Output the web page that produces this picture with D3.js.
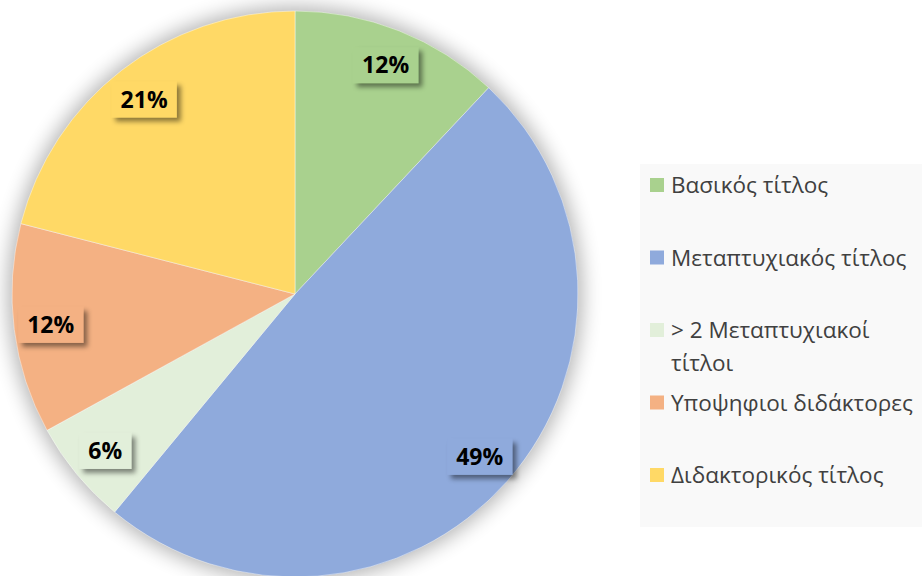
<!DOCTYPE html>
<html>
<head>
<meta charset="utf-8">
<script src="https://cdn.jsdelivr.net/npm/d3@7"></script>
<style>
  html, body { margin: 0; padding: 0; background: #ffffff; }
  svg { display: block; }
</style>
</head>
<body>
<svg id="chart" width="922" height="576"></svg>
<script>
// Share of each qualification level (percent)
const categories = [
  "Βασικός τίτλος",
  "Μεταπτυχιακός τίτλος",
  "> 2 Μεταπτυχιακοί τίτλοι",
  "Υποψηφιοι διδάκτορες",
  "Διδακτορικός τίτλος"
];
const values = [12, 49, 6, 12, 21];
const legendLines = [
  ["Βασικός τίτλος"],
  ["Μεταπτυχιακός τίτλος"],
  ["> 2 Μεταπτυχιακοί", "τίτλοι"],
  ["Υποψηφιοι διδάκτορες"],
  ["Διδακτορικός τίτλος"]
];
const colors = ["#a9d18e", "#8faadc", "#e2efda", "#f4b183", "#ffd966"];

const svg = d3.select("#chart");
const cx = 295, cy = 294, R = 283;

const defs = svg.append("defs");
const glow = defs.append("filter").attr("id", "glow")
  .attr("x", "-20%").attr("y", "-20%").attr("width", "140%").attr("height", "140%");
glow.append("feGaussianBlur").attr("stdDeviation", 10);

const lblShadow = defs.append("filter").attr("id", "lblShadow")
  .attr("x", "-30%").attr("y", "-30%").attr("width", "160%").attr("height", "160%");
lblShadow.append("feDropShadow")
  .attr("dx", 4).attr("dy", 4).attr("stdDeviation", 2.5)
  .attr("flood-color", "#000").attr("flood-opacity", 0.45);

// Legend panel
const lg = svg.append("g");
lg.append("rect")
  .attr("x", 640).attr("y", 164).attr("width", 282).attr("height", 363)
  .attr("fill", "#f9f9f9");

// Soft halo behind the pie
const g = svg.append("g").attr("transform", `translate(${cx},${cy})`);
g.append("circle").attr("r", R + 4)
  .attr("fill", "#000").attr("opacity", 0.3)
  .attr("filter", "url(#glow)");

const pie = d3.pie().sort(null).value(d => d);
const arcs = pie(values);
const arc = d3.arc().innerRadius(0).outerRadius(R);
const labelArc = d3.arc().innerRadius(R * 0.87).outerRadius(R * 0.87);

g.selectAll("path.slice")
  .data(arcs)
  .enter().append("path")
  .attr("class", "slice")
  .attr("d", arc)
  .attr("fill", (d, i) => colors[i])
  .attr("stroke", "#ffffff")
  .attr("stroke-width", 0.6)
  .attr("stroke-opacity", 0.7);

// Percentage labels on shaded boxes
const fmt = d => d3.format(".0%")(d / 100);
const labels = g.selectAll("g.lbl")
  .data(arcs)
  .enter().append("g")
  .attr("class", "lbl")
  .attr("transform", d => `translate(${labelArc.centroid(d)})`);

labels.each(function (d, i) {
  const sel = d3.select(this);
  const txt = sel.append("text")
    .attr("text-anchor", "middle")
    .attr("dy", "0.36em")
    .attr("font-family", "'Open Sans', 'Liberation Sans', sans-serif")
    .attr("font-weight", "bold")
    .attr("font-size", 23)
    .attr("fill", "#000")
    .text(fmt(d.data));
  const bb = txt.node().getBBox();
  const padX = 9, h = 36;
  sel.insert("rect", "text")
    .attr("x", -bb.width / 2 - padX)
    .attr("y", -h / 2)
    .attr("width", bb.width + padX * 2)
    .attr("height", h)
    .attr("fill", colors[i])
    .attr("filter", "url(#lblShadow)");
});

// Legend entries
const rowY = d3.scalePoint().domain(d3.range(categories.length)).range([185, 475]);
const items = lg.selectAll("g.item")
  .data(categories)
  .enter().append("g")
  .attr("class", "item")
  .attr("transform", (d, i) => `translate(650,${rowY(i)})`);

items.append("rect")
  .attr("x", 0).attr("y", -7).attr("width", 14).attr("height", 14)
  .attr("fill", (d, i) => colors[i]);

items.append("text")
  .attr("x", 21)
  .attr("font-family", "'Open Sans', 'Noto Sans', sans-serif")
  .attr("font-size", 22.5)
  .attr("fill", "#404040")
  .each(function (d, i) {
    const t = d3.select(this);
    legendLines[i].forEach((line, k) => {
      t.append("tspan")
        .attr("x", 21)
        .attr("y", k * 33)
        .attr("dy", "0.36em")
        .text(line);
    });
  });
</script>
</body>
</html>
